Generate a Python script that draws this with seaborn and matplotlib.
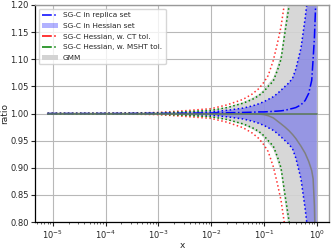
import matplotlib
matplotlib.use("Agg")
import matplotlib.pyplot as plt
import seaborn as sns
import pandas as pd
import numpy as np
from matplotlib.lines import Line2D
from matplotlib.patches import Patch

sns.set_theme(style="ticks")
plt.rcParams['font.family'] = ['DejaVu Sans']

# x nodes
x = [8e-6, 1e-4, 1e-3, 3e-3, 1e-2, 2e-2, 4e-2, 6e-2, 0.08, 0.1, 0.12, 0.15, 0.18,
     0.21, 0.25, 0.3, 0.35, 0.4, 0.5, 0.6, 0.7, 0.8, 0.85, 0.9, 0.95, 0.98, 1.0]

# deviations from 1 (symmetric bands)
dev_ct = [0, 0.0003, 0.002, 0.005, 0.009, 0.016, 0.026, 0.036, 0.046, 0.058, 0.070,
          0.098, 0.13, 0.16, 0.21, 0.30, 0.42, 0.6, 1.0, 1.0, 1.0, 1.0, 1.0, 1.0, 1.0, 1.0, 1.0]
dev_msht = [0, 0.0002, 0.0013, 0.003, 0.006, 0.011, 0.019, 0.026, 0.033, 0.041, 0.05,
            0.06, 0.08, 0.10, 0.15, 0.20, 0.26, 0.35, 0.6, 1.0, 1.0, 1.0, 1.0, 1.0, 1.0, 1.0, 1.0]
dev_gmm = [0, 0.0002, 0.0015, 0.0035, 0.0068, 0.012, 0.021, 0.029, 0.036, 0.045, 0.055,
           0.066, 0.088, 0.11, 0.165, 0.22, 0.29, 0.39, 0.65, 1.0, 1.0, 1.0, 1.0, 1.0, 1.0, 1.0, 1.0]
dev_hess = [0, 0.0001, 0.0008, 0.0015, 0.003, 0.006, 0.01, 0.014, 0.018, 0.022, 0.026,
            0.031, 0.037, 0.043, 0.05, 0.057, 0.066, 0.082, 0.12, 0.175, 0.23, 0.35, 0.45,
            0.6, 0.8, 1.0, 1.0]
dev_rep = [0, 0, 0.0003, 0.0005, 0.001, 0.0015, 0.002, 0.0025, 0.003, 0.003, 0.0035,
           0.004, 0.0045, 0.005, 0.006, 0.008, 0.0095, 0.011, 0.016, 0.024, 0.037, 0.061,
           0.10, 0.14, 0.2, 0.3, 0.5]
gmm_central = [1.0, 1.0, 1.0, 1.0, 1.0, 1.0, 1.0, 0.9995, 0.999, 0.998, 0.996, 0.992,
               0.986, 0.981, 0.975, 0.968, 0.961, 0.954, 0.94, 0.927, 0.912, 0.895, 0.88,
               0.83, 0.72, 0.6, 0.4]

df = pd.DataFrame({"x": x, "ct": dev_ct, "msht": dev_msht, "gmm": dev_gmm,
                   "hess": dev_hess, "rep": dev_rep, "gc": gmm_central})

fig, ax = plt.subplots(figsize=(3.32, 2.49), dpi=100)
fig.subplots_adjust(left=0.105, right=0.991, top=0.98, bottom=0.108)

ax.fill_between(df.x, 1 - df.gmm, 1 + df.gmm, color='lightgray', alpha=0.9, lw=0)
ax.fill_between(df.x, 1 - df.hess, 1 + df.hess, color='blue', alpha=0.3, lw=0)

sns.lineplot(x=df.x, y=1 + df.hess, color='blue', ls=':', lw=1.1, ax=ax)
sns.lineplot(x=df.x, y=1 - df.hess, color='blue', ls=':', lw=1.1, ax=ax)
sns.lineplot(x=df.x, y=1 + df.ct, color='red', ls=':', lw=1.1, alpha=0.8, ax=ax)
sns.lineplot(x=df.x, y=1 - df.ct, color='red', ls=':', lw=1.1, alpha=0.8, ax=ax)
sns.lineplot(x=df.x, y=1 + df.msht, color='green', ls=':', lw=1.1, ax=ax)
sns.lineplot(x=df.x, y=1 - df.msht, color='green', ls=':', lw=1.1, ax=ax)
sns.lineplot(x=df.x, y=df.gc, color='gray', lw=1.1, ax=ax)
sns.lineplot(x=df.x, y=1 + df.rep, color='blue', ls='-.', lw=1.1, ax=ax)
sns.lineplot(x=df.x, y=np.ones(len(x)), color='#5f7a5f', lw=1.2, ax=ax)

ax.set_xscale('log')
ax.set_ylim(0.8, 1.2)
ax.set_xlim(4.6e-6, 1.7)
ax.set_yticks([0.80, 0.85, 0.90, 0.95, 1.00, 1.05, 1.10, 1.15, 1.20])
ax.yaxis.set_major_formatter(matplotlib.ticker.FormatStrFormatter('%.2f'))
ax.grid(True, which='major', color='#b8b8b8', lw=0.8)
ax.tick_params(labelsize=6, length=3, width=0.8, pad=1.5)
ax.tick_params(which='minor', length=1.5, width=0.5)
for s in ['left', 'bottom']:
    ax.spines[s].set_color('black')
    ax.spines[s].set_linewidth(0.9)
for s in ['top', 'right']:
    ax.spines[s].set_color('#999999')
    ax.spines[s].set_linewidth(1.0)
ax.set_xlabel('x', fontsize=6.5, labelpad=0.5)
ax.set_ylabel('ratio', fontsize=6.5, labelpad=1)

handles = [
    Line2D([], [], color='blue', ls='-.', lw=1.1),
    Patch(color='blue', alpha=0.3, lw=0),
    Line2D([], [], color='red', ls='-.', lw=1.1),
    Line2D([], [], color='green', ls='-.', lw=1.1),
    Patch(color='lightgray', lw=0),
]
labels = ['SG-C in replica set', 'SG-C in Hessian set', 'SG-C Hessian, w. CT tol.',
          'SG-C Hessian, w. MSHT tol.', 'GMM']
ax.legend(handles, labels, loc='upper left', fontsize=5.3, frameon=True,
          handlelength=2.2, borderpad=0.5, labelspacing=0.6, handletextpad=0.6)

fig.savefig('out.png', dpi=100)
